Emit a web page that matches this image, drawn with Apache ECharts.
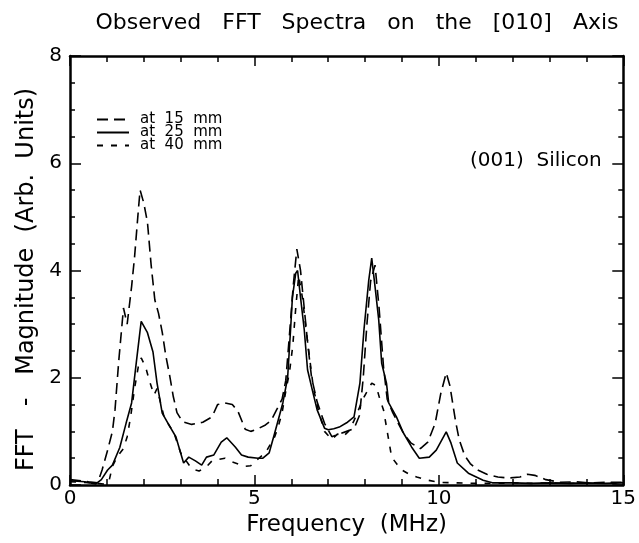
<!DOCTYPE html>
<html>
<head>
<meta charset="utf-8">
<script src="https://cdn.jsdelivr.net/npm/echarts@6/dist/echarts.min.js"></script>
<style>
  html, body { margin: 0; padding: 0; background: #ffffff; }
  #chart { width: 639px; height: 543px; }
</style>
</head>
<body>
<div id="chart"></div>
<script>
// FFT magnitude spectra measured on the [010] axis at three distances.
const seriesNames = ['at 15 mm', 'at 25 mm', 'at 40 mm'];
const legendLabels = ['at  15  mm', 'at  25  mm', 'at  40  mm'];

// 15 mm
const freq15 = [0, 0.3, 0.5, 0.75, 0.87, 1.02, 1.15, 1.22, 1.32, 1.45, 1.55, 1.67, 1.75, 1.85, 1.9,
  2.0, 2.1, 2.2, 2.3, 2.4, 2.5, 2.6, 2.7, 2.8, 2.9, 3.05, 3.3, 3.6, 3.85, 4.0, 4.2, 4.4, 4.55,
  4.75, 4.9, 5.1, 5.3, 5.45, 5.6, 5.75, 5.85, 5.95, 6.05, 6.15, 6.25, 6.35, 6.45, 6.55, 6.7,
  6.9, 7.1, 7.3, 7.5, 7.7, 7.85, 7.95, 8.05, 8.15, 8.27, 8.38, 8.5, 8.6, 8.75, 8.9, 9.05, 9.25,
  9.5, 9.7, 9.9, 10.05, 10.2, 10.3, 10.45, 10.55, 10.7, 10.85, 11.05, 11.3, 11.6, 11.9, 12.2,
  12.4, 12.6, 12.9, 13.3, 13.7, 14.1, 14.5, 15];
const mag15 = [0.1, 0.08, 0.06, 0.04, 0.28, 0.65, 1.0, 1.4, 2.3, 3.3, 3.0, 3.7, 4.25, 5.1, 5.5,
  5.26, 4.9, 4.1, 3.45, 3.2, 2.85, 2.4, 2.05, 1.65, 1.35, 1.18, 1.13, 1.17, 1.27, 1.5, 1.53, 1.5, 1.38,
  1.04, 1.0, 1.05, 1.12, 1.2, 1.4, 1.6, 1.95, 2.8, 3.7, 4.4, 4.0, 3.3, 2.6, 2.0, 1.55,
  1.15, 0.9, 0.95, 1.0, 1.05, 1.3, 2.0, 3.0, 3.8, 4.1, 3.3, 2.2, 1.6, 1.35, 1.15, 0.95, 0.78,
  0.68, 0.8, 1.15, 1.7, 2.09, 1.85, 1.2, 0.85, 0.55, 0.4, 0.28, 0.2, 0.15, 0.13, 0.15,
  0.2, 0.18, 0.1, 0.05, 0.06, 0.04, 0.05, 0.05];

// 25 mm
const freq25 = [0, 0.2, 0.4, 0.55, 0.7, 0.85, 1.02, 1.15, 1.35, 1.52, 1.67, 1.8, 1.93, 2.1, 2.25,
  2.36, 2.5, 2.68, 2.87, 3.08, 3.22, 3.4, 3.57, 3.7, 3.9, 4.1, 4.25, 4.48, 4.65, 4.83, 5.1, 5.23,
  5.4, 5.55, 5.77, 5.9, 5.98, 6.03, 6.12, 6.17, 6.25, 6.35, 6.44, 6.57, 6.7, 6.9, 7.0, 7.15, 7.3,
  7.5, 7.7, 7.86, 7.97, 8.1, 8.18, 8.27, 8.37, 8.45, 8.58, 8.64, 8.85, 9.04, 9.26, 9.47, 9.74,
  9.93, 10.2, 10.33, 10.5, 10.8, 11.2, 11.45, 12, 12.5, 13, 13.5, 14, 14.5, 15];
const mag25 = [0.08, 0.07, 0.06, 0.04, 0.02, 0.1, 0.28, 0.37, 0.7, 1.15, 1.53, 2.3, 3.05, 2.84, 2.48,
  1.9, 1.34, 1.12, 0.9, 0.41, 0.52, 0.45, 0.37, 0.52, 0.56, 0.8, 0.88, 0.71, 0.56, 0.52, 0.5, 0.5,
  0.6, 0.97, 1.53, 2.0, 2.9, 3.5, 3.95, 4.0, 3.5, 2.9, 2.15, 1.77, 1.4, 1.06, 1.03, 1.05, 1.08,
  1.16, 1.27, 1.9, 2.9, 3.82, 4.23, 3.7, 3.08, 2.27, 1.9, 1.53, 1.27, 0.97, 0.71, 0.5, 0.52,
  0.65, 0.99, 0.78, 0.41, 0.22, 0.09, 0.04, 0.04, 0.03, 0.04, 0.03, 0.04, 0.03, 0.04];

// 40 mm
const freq40 = [0, 0.3, 0.6, 0.9, 1.05, 1.15, 1.3, 1.45, 1.55, 1.65, 1.75, 1.85, 1.93, 2.05, 2.15,
  2.28, 2.36, 2.55, 2.7, 2.82, 3.0, 3.3, 3.5, 3.7, 3.85, 4.2, 4.4, 4.75, 4.9, 5.0, 5.3, 5.45,
  5.55, 5.65, 5.75, 5.85, 5.95, 6.04, 6.12, 6.2, 6.3, 6.4, 6.5, 6.6, 6.75, 6.9, 7.1, 7.25, 7.4,
  7.55, 7.7, 7.85, 7.97, 8.1, 8.18, 8.3, 8.4, 8.5, 8.6, 8.72, 8.85, 9.0, 9.2, 9.4, 9.7, 10,
  10.5, 11, 11.5, 12, 12.5, 13, 13.5, 14, 14.5, 15];
const mag40 = [0.06, 0.05, 0.04, 0.02, 0.05, 0.35, 0.55, 0.68, 0.9, 1.3, 1.8, 2.2, 2.37, 2.2, 1.95,
  1.68, 1.8, 1.27, 1.1, 0.97, 0.6, 0.3, 0.26, 0.34, 0.45, 0.5, 0.43, 0.35, 0.36, 0.43, 0.6, 0.78,
  0.9, 1.1, 1.35, 1.75, 2.1, 2.6, 3.3, 3.9, 3.5, 2.9, 2.35, 1.8, 1.35, 1.0, 0.85, 0.95, 0.9,
  1.0, 1.2, 1.45, 1.64, 1.8, 1.9, 1.85, 1.6, 1.4, 1.0, 0.52, 0.4, 0.28, 0.2, 0.15, 0.09, 0.05,
  0.04, 0.03, 0.03, 0.04, 0.03, 0.04, 0.03, 0.04, 0.03, 0.04];

const zip = (xs, ys) => xs.map((x, i) => [x, ys[i]]);

const FONT = 'DejaVu Sans';
const INK = '#000000';

const chart = echarts.init(document.getElementById('chart'), null, { renderer: 'canvas' });

function xAxisDef(pos, showLabels) {
  return {
    type: 'value', position: pos, min: 0, max: 15, interval: 5,
    axisLine: { show: true, onZero: false, lineStyle: { color: INK, width: 2.5 } },
    axisTick: { show: true, inside: true, length: 10, lineStyle: { color: INK, width: 1.5 } },
    minorTick: { show: true, splitNumber: 5, length: 6, lineStyle: { color: INK, width: 1.5 } },
    splitLine: { show: false },
    axisLabel: { show: showLabels, color: INK, fontFamily: FONT, fontSize: 20, margin: 4 },
    name: showLabels ? 'Frequency  (MHz)' : '',
    nameLocation: 'middle', nameGap: 25,
    nameTextStyle: { color: INK, fontFamily: FONT, fontSize: 23 }
  };
}
function yAxisDef(pos, showLabels) {
  return {
    type: 'value', position: pos, min: 0, max: 8, interval: 2,
    axisLine: { show: true, onZero: false, lineStyle: { color: INK, width: 2.5 } },
    axisTick: { show: true, inside: true, length: 11, lineStyle: { color: INK, width: 1.5 } },
    minorTick: { show: true, splitNumber: 4, length: 5, lineStyle: { color: INK, width: 1.5 } },
    splitLine: { show: false },
    axisLabel: { show: showLabels, color: INK, fontFamily: FONT, fontSize: 20, margin: 8 },
    name: showLabels ? 'FFT   -   Magnitude  (Arb.  Units)' : '',
    nameLocation: 'middle', nameGap: 28, nameRotate: 90,
    nameTextStyle: { color: INK, fontFamily: FONT, fontSize: 24, padding: [0, 18, 0, 0] }
  };
}

const dashes = {
  'at 15 mm': [11, 6],
  'at 25 mm': 'solid',
  'at 40 mm': [6, 8]
};

function lineSeries(name, data) {
  return {
    name: name, type: 'line', data: data,
    xAxisIndex: 0, yAxisIndex: 0,
    showSymbol: false, symbol: 'none', smooth: false,
    lineStyle: { color: INK, width: 1.6, type: dashes[name] },
    itemStyle: { color: INK },
    animation: false
  };
}

chart.setOption({
  backgroundColor: '#ffffff',
  animation: false,
  title: {
    text: 'Observed   FFT   Spectra   on   the   [010]   Axis',
    left: 352, top: 7, textAlign: 'center',
    textStyle: { color: INK, fontFamily: FONT, fontSize: 22, fontWeight: 'normal' }
  },
  grid: { left: 70, right: 10, top: 56, bottom: 58, containLabel: false },
  xAxis: [xAxisDef('bottom', true), xAxisDef('top', false)],
  yAxis: [yAxisDef('left', true), yAxisDef('right', false)],
  legend: {
    left: 91, top: 107, orient: 'vertical',
    itemWidth: 32, itemHeight: 10, itemGap: -2,
    data: seriesNames,
    formatter: (n) => legendLabels[seriesNames.indexOf(n)],
    itemStyle: { color: 'rgba(0,0,0,0)', borderWidth: 0, opacity: 0 },
    textStyle: { color: INK, fontFamily: FONT, fontSize: 15, lineHeight: 13, padding: [0, 0, 0, 6] },
    selectedMode: false
  },
  graphic: [{
    type: 'text', left: 470, top: 151,
    style: { text: '(001)  Silicon', fill: INK, font: '20px "DejaVu Sans"' }
  }],
  series: [
    lineSeries('at 15 mm', zip(freq15, mag15)),
    lineSeries('at 25 mm', zip(freq25, mag25)),
    lineSeries('at 40 mm', zip(freq40, mag40))
  ]
});
</script>
</body>
</html>
